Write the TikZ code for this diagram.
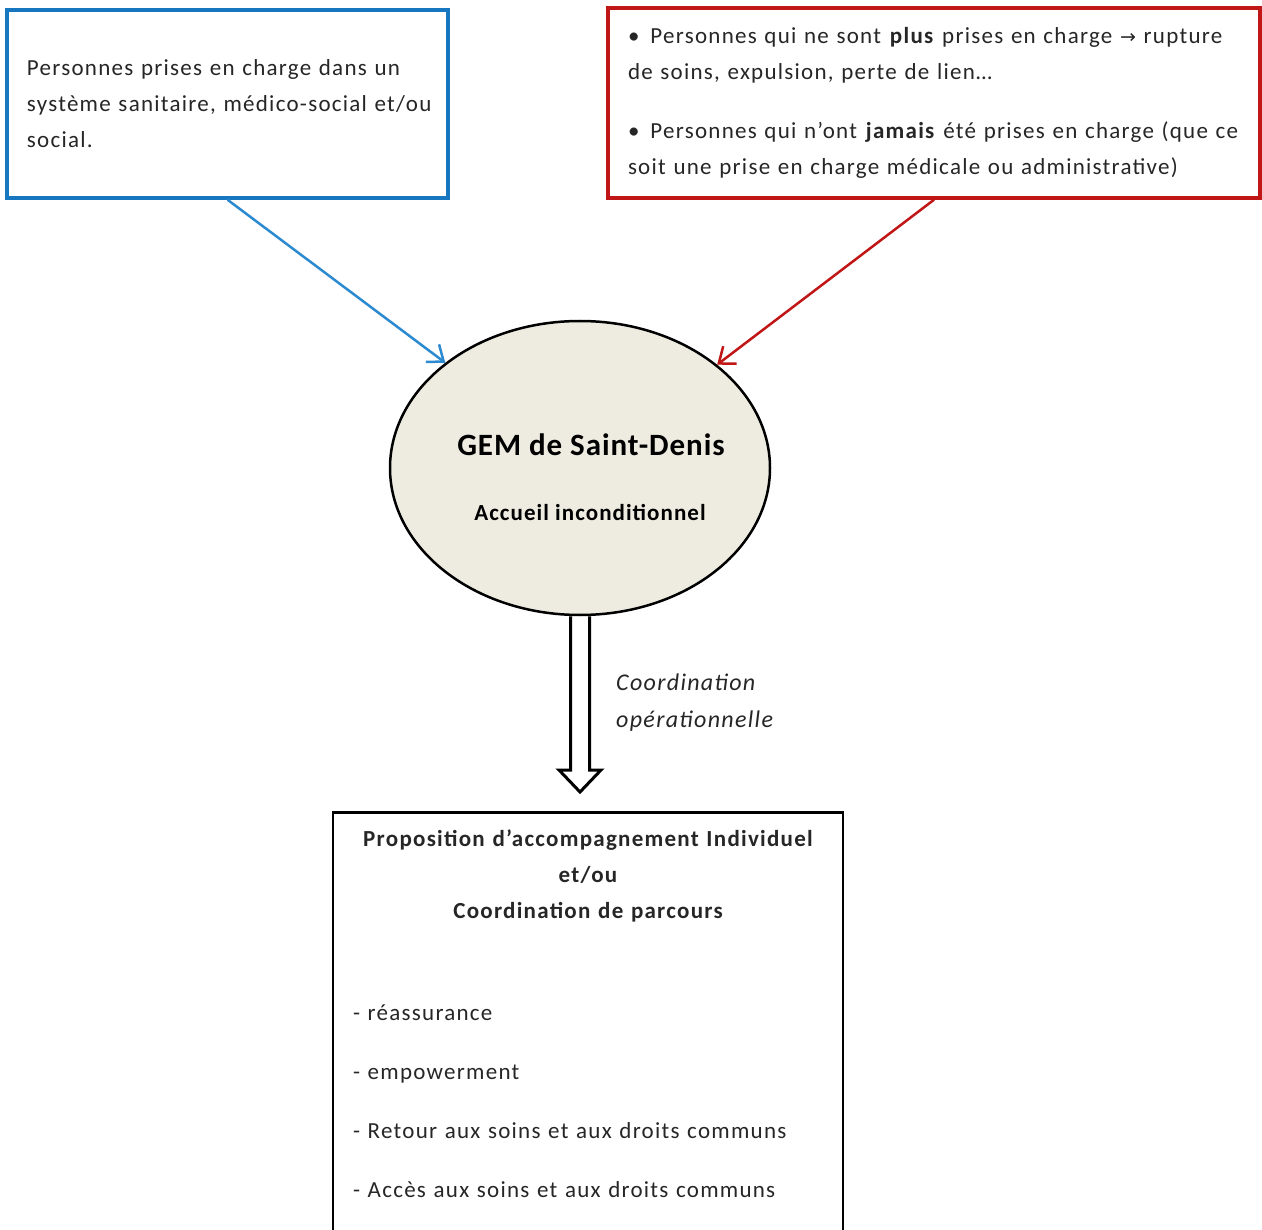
\documentclass[tikz,border=0pt]{standalone}
\usepackage{fontspec}
\setmainfont[LetterSpace=5.5]{Carlito}
\newfontfamily\arrowfont{DejaVu Sans}
\usetikzlibrary{shapes.geometric,arrows.meta,calc}

\definecolor{gemblue}{RGB}{22,118,192}
\definecolor{arrowblue}{RGB}{44,138,208}
\definecolor{gemred}{RGB}{192,22,22}
\definecolor{gembeige}{RGB}{238,236,225}

\begin{document}
\begin{tikzpicture}[x=1pt,y=-1pt,
    box/.style={draw, line width=3.5pt, inner xsep=20pt, inner ysep=0pt, align=left,
        text=black!85, font=\fontsize{23}{36}\selectfont},
    >={Straight Barb[length=14pt,width=22pt]}]
    \useasboundingbox (0,0) rectangle (1262,1230);

    % Left box: people already followed
    \node[box, draw=gemblue, text width=401pt, minimum height=188pt] (prises) at (227.5,104)
        {Personnes prises en charge dans un\\ système sanitaire, médico-social et/ou\\ social.};

    % Right box: people out of care
    \node[box, draw=gemred, text width=612pt, minimum height=190pt] (rupture) at (934,103)
        {\textbullet\hspace{11pt}Personnes qui ne sont \textbf{plus} prises en charge {\arrowfont\fontsize{19}{36}\selectfont →} rupture\\
         de soins, expulsion, perte de lien\dots\\[23pt]
         \textbullet\hspace{11pt}Personnes qui n’ont \textbf{jamais} été prises en charge (que ce\\
         soit une prise en charge médicale ou administrative)};

    % GEM
    \node[ellipse, draw, line width=2.5pt, fill=gembeige, minimum width=380pt,
        minimum height=294pt, inner sep=0pt] (gem) at (580,468) {};
    \node[font=\fontsize{31}{36}\selectfont\bfseries\addfontfeature{LetterSpace=3}] (gemname) at (591,445) {GEM de Saint-Denis};
    \node[font=\fontsize{23}{30}\selectfont\bfseries\addfontfeature{LetterSpace=4.5}] (gemsub) at (590,512) {Accueil inconditionnel};

    % Arrows into the GEM
    \draw[->, arrowblue, line width=2.5pt] (prises.south) -- (gem.142);
    \draw[->, gemred, line width=2.5pt] (rupture.south) -- (gem.37);

    % Bottom box
    \node[box, draw=black, line width=2.5pt, text width=470pt, inner ysep=18pt, anchor=north] (accomp) at (588,811)
        {{\centering\bfseries Proposition d’accompagnement Individuel\\ et/ou\\ Coordination de parcours\par}
         \vspace{66pt}
         - réassurance\\[23pt]
         - empowerment\\[23pt]
         - Retour aux soins et aux droits communs\\[23pt]
         - Accès aux soins et aux droits communs\par
         \vspace{40pt}};

    % Hollow arrow down
    \draw[line width=3pt, line join=miter]
        ($(gem.south)+(-9.5,0)$) -- ($(gem.south |- accomp.north)+(-9.5,-41)$)
        -- ($(gem.south |- accomp.north)+(-21,-41)$) -- ($(gem.south |- accomp.north)+(0,-19)$)
        -- ($(gem.south |- accomp.north)+(21,-41)$) -- ($(gem.south |- accomp.north)+(9.5,-41)$)
        -- ($(gem.south)+(9.5,0)$);
    \node[anchor=west, align=left, inner sep=0pt, text=black!85, font=\fontsize{24}{37}\selectfont\itshape]
        (coordlabel) at (616,703) {Coordination\\ opérationnelle};

\end{tikzpicture}
\end{document}
